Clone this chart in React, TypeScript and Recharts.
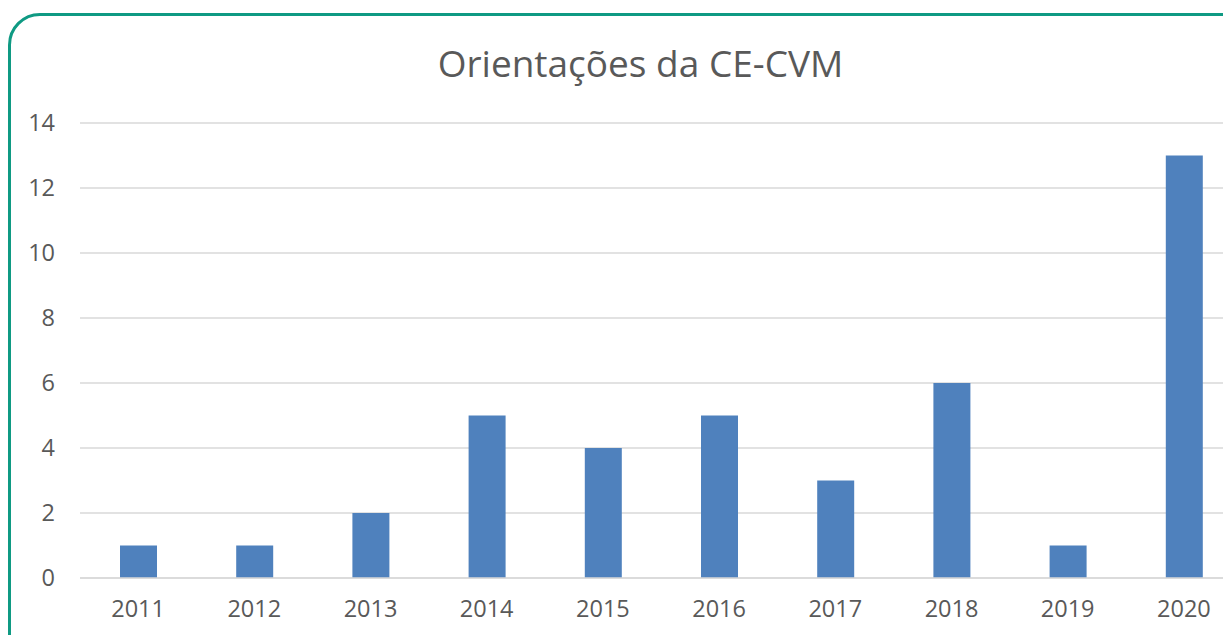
import React from 'react';
import { BarChart, Bar, XAxis, YAxis, CartesianGrid } from 'recharts';

const years = ['2011', '2012', '2013', '2014', '2015', '2016', '2017', '2018', '2019', '2020'];
const counts = [1, 1, 2, 5, 4, 5, 3, 6, 1, 13];
const yTicks = [0, 2, 4, 6, 8, 10, 12, 14];

const data = years.map((year, i) => ({ year, value: counts[i] }));

const font = '"Open Sans", "Noto Sans", sans-serif';

const App: React.FC = () => {
  return (
    <div
      style={{
        position: 'relative',
        margin: '-8px 0 0 -8px',
        width: 1231,
        height: 635,
        overflow: 'hidden',
        background: '#fff',
        fontFamily: font,
      }}
    >
      {/* rounded frame, runs off the right and bottom edges */}
      <div
        style={{
          position: 'absolute',
          left: 8,
          top: 13,
          width: 1260,
          height: 660,
          border: '3px solid #0f9a83',
          borderRadius: 32,
          boxSizing: 'border-box',
        }}
      />
      <div
        style={{
          position: 'absolute',
          left: 0,
          top: 37,
          width: 1281,
          textAlign: 'center',
          fontSize: 37,
          color: '#595959',
        }}
      >
        Orientações da CE-CVM
      </div>
      <div style={{ position: 'absolute', left: 0, top: 0 }}>
        <BarChart
          width={1248}
          height={635}
          data={data}
          margin={{ top: 123, right: 6, bottom: 12, left: 0 }}
          barSize={37}
        >
          <CartesianGrid vertical={false} stroke="#d9d9d9" strokeWidth={1.5} />
          <XAxis
            dataKey="year"
            axisLine={{ stroke: '#d9d9d9', strokeWidth: 1.5 }}
            tickLine={false}
            tickMargin={16}
            height={45}
            tick={{ fill: '#595959', fontSize: 23.5, fontFamily: font }}
            interval={0}
          />
          <YAxis
            width={80}
            domain={[0, 14]}
            ticks={yTicks}
            axisLine={false}
            tickLine={false}
            tickMargin={19}
            tick={{ fill: '#595959', fontSize: 23.5, fontFamily: font }}
          />
          <Bar dataKey="value" fill="#4f81bd" isAnimationActive={false} />
        </BarChart>
      </div>
    </div>
  );
};

export default App;
